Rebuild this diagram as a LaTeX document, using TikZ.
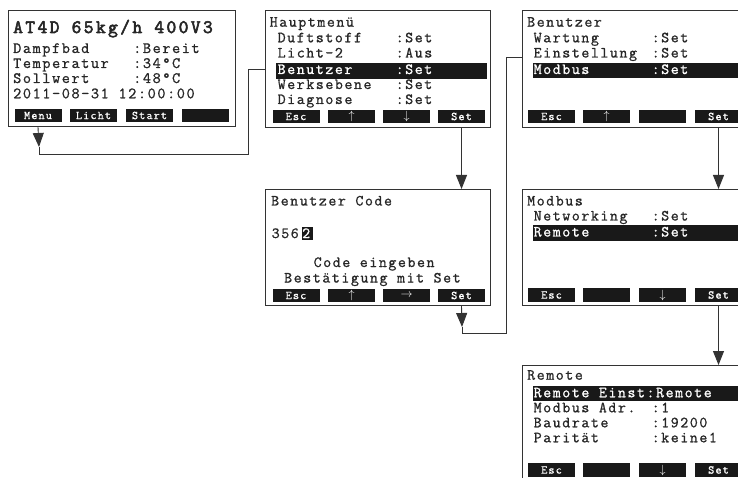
\documentclass[tikz,border=0pt]{standalone}
\usepackage{fontspec}
\usetikzlibrary{arrows.meta}
\newfontfamily\lcd{Latin Modern Mono}[LetterSpace=10, FakeBold=1]
\newfontfamily\lcdtitle{Latin Modern Mono}[LetterSpace=12.5, FakeBold=3]
\newfontfamily\lcdkey{Latin Modern Mono}[LetterSpace=9, FakeBold=0.6]
\tikzset{
  screen/.style={draw=black!80, line width=1.2pt, anchor=north west, minimum width=225pt, minimum height=117pt, inner sep=0pt},
  softkey/.style={fill=black!90, text=white, minimum width=47pt, minimum height=13.5pt, inner sep=0pt, font=\lcdkey\fontsize{12}{12}\selectfont},
  lcdtext/.style={anchor=base west, inner sep=0pt, text=black!85, font=\lcd\fontsize{15.5}{16}\selectfont},
  bigtext/.style={lcdtext, font=\lcd\fontsize{15.8}{16}\selectfont},
  hltext/.style={lcdtext, text=white},
  flow/.style={line width=0.9pt, draw=black!80},
  flowarrow/.style={flow, -{Triangle[width=11pt,length=14pt]}},
}
\begin{document}
\begin{tikzpicture}[x=1pt,y=-1pt]
\useasboundingbox (0,0) rectangle (738,478);
\clip (0,0) rectangle (738,478);
% screens
\node[screen, minimum width=227pt, minimum height=116pt] (start) at (8,10) {};
\node[screen] (haupt) at (265,10) {};
\node[screen, minimum height=116pt] (code) at (265,189) {};
\node[screen] (benutzer) at (522,10) {};
\node[screen, minimum height=116pt] (modbus) at (522,189) {};
\node[screen] (remote) at (522,365) {};

% start screen
\node[lcdtext, font=\lcdtitle\fontsize{19}{19}\selectfont] (st0) at (13,33) {AT4D 65kg/h 400V3};
\node[bigtext] (st1) at (13,53) {Dampfbad};
\node[bigtext] (st1v) at (133,53) {:Bereit};
\node[bigtext] (st2) at (13,68) {Temperatur};
\node[bigtext] (st2v) at (133,68) {:34°C};
\node[bigtext] (st3) at (13,83) {Sollwert};
\node[bigtext] (st3v) at (133,83) {:48°C};
\node[bigtext] (st4) at (13,98.3) {2011-08-31 12:00:00};
\node[softkey] (smenu) at (38,115.5) {Menu};
\node[softkey] (slicht) at (93.5,115.5) {Licht};
\node[softkey] (sstart) at (149.5,115.5) {Start};
\node[softkey] (sfree) at (205.5,115.5) {};

% Hauptmenue
\fill[black!90] (276,63.5) rectangle (487,79);
\node[lcdtext] (h0) at (269.5,26.7) {Hauptmenü};
\node[lcdtext] (h1) at (277.5,42.3) {Duftstoff};
\node[lcdtext] (h1v) at (395.5,42.3) {:Set};
\node[lcdtext] (h2) at (277.5,57.5) {Licht-2};
\node[lcdtext] (h2v) at (395.5,57.5) {:Aus};
\node[hltext] (h3) at (277.5,74) {Benutzer};
\node[hltext] (h3v) at (395.5,74) {:Set};
\node[lcdtext] (h4) at (277.5,89) {Werksebene};
\node[lcdtext] (h4v) at (395.5,89) {:Set};
\node[lcdtext] (h5) at (277.5,104) {Diagnose};
\node[lcdtext] (h5v) at (395.5,104) {:Set};
\node[softkey] (hesc) at (296,116.5) {Esc};
\node[softkey] (hup) at (351.5,116.5) {$\uparrow$};
\node[softkey] (hdown) at (406.5,116.5) {$\downarrow$};
\node[softkey] (hset) at (461.5,116.5) {Set};

% Benutzer Code
\node[lcdtext] (c0) at (271,205.5) {Benutzer Code};
\node[lcdtext] (c1) at (271.5,238) {356};
\fill[black!90] (301.5,227.5) rectangle (313,240);
\node[hltext] (c2) at (302,238) {2};
\node[lcdtext] (c3) at (313.5,267) {Code eingeben};
\node[lcdtext] (c4) at (284,282.5) {Bestätigung mit Set};
\node[softkey] (cesc) at (296,295.5) {Esc};
\node[softkey] (cup) at (351.5,295.5) {$\uparrow$};
\node[softkey] (cright) at (406.5,295.5) {$\rightarrow$};
\node[softkey] (cset) at (461.5,295.5) {Set};

% Benutzer
\fill[black!90] (533,63) rectangle (745,78.5);
\node[lcdtext] (b0) at (527,26.7) {Benutzer};
\node[lcdtext] (b1) at (533.5,42.3) {Wartung};
\node[lcdtext] (b1v) at (651.5,42.3) {:Set};
\node[lcdtext] (b2) at (533.5,57.5) {Einstellung};
\node[lcdtext] (b2v) at (651.5,57.5) {:Set};
\node[hltext] (b3) at (533.5,74) {Modbus};
\node[hltext] (b3v) at (651.5,74) {:Set};
\node[softkey] (besc) at (551.5,116.5) {Esc};
\node[softkey] (bup) at (606.5,116.5) {$\uparrow$};
\node[softkey] (bfree) at (662.5,116.5) {};
\node[softkey] (bset) at (718.5,116.5) {Set};

% Modbus
\fill[black!90] (533,225) rectangle (745,240.5);
\node[lcdtext] (m0) at (527,205.5) {Modbus};
\node[lcdtext] (m1) at (533.5,220.5) {Networking};
\node[lcdtext] (m1v) at (651.5,220.5) {:Set};
\node[hltext] (m2) at (533.5,236.5) {Remote};
\node[hltext] (m2v) at (651.5,236.5) {:Set};
\node[softkey] (mesc) at (551.5,295) {Esc};
\node[softkey] (mfree) at (606.5,295) {};
\node[softkey] (mdown) at (662.5,295) {$\downarrow$};
\node[softkey] (mset) at (718.5,295) {Set};

% Remote
\fill[black!90] (533,386.3) rectangle (745,401.3);
\node[lcdtext] (r0) at (527,379.7) {Remote};
\node[hltext] (r1) at (533.5,397.3) {Remote Einst:Remote};
\node[lcdtext] (r2) at (533.5,412.3) {Modbus Adr.};
\node[lcdtext] (r2v) at (651.5,412.3) {:1};
\node[lcdtext] (r3) at (533.5,427.3) {Baudrate};
\node[lcdtext] (r3v) at (651.5,427.3) {:19200};
\node[lcdtext] (r4) at (533.5,442.3) {Parität};
\node[lcdtext] (r4v) at (651.5,442.3) {:keine1};
\node[softkey] (resc) at (551.5,470) {Esc};
\node[softkey] (rfree) at (606.5,470) {};
\node[softkey] (rdown) at (662.5,470) {$\downarrow$};
\node[softkey] (rset) at (718.5,470) {Set};

% connectors
\coordinate (tip1) at (39,147);
\coordinate (bend1) at (248,154);
\draw[flowarrow] (start.south -| smenu) -- (tip1);
\draw[flow] (tip1) |- (bend1) |- (haupt.west);
\draw[flowarrow] (haupt.south -| hset) -- (code.north -| hset);
\coordinate (tip2) at (462,327);
\coordinate (bend2) at (506,333);
\coordinate (bend3) at (506,57);
\draw[flowarrow] (code.south -| cset) -- (tip2);
\draw[flow] (tip2) |- (bend2) -- (bend3) -- (bend3 -| benutzer.west);
\draw[flowarrow] (benutzer.south -| bset) -- (modbus.north -| bset);
\draw[flowarrow] (modbus.south -| mset) -- (remote.north -| mset);
\end{tikzpicture}
\end{document}
